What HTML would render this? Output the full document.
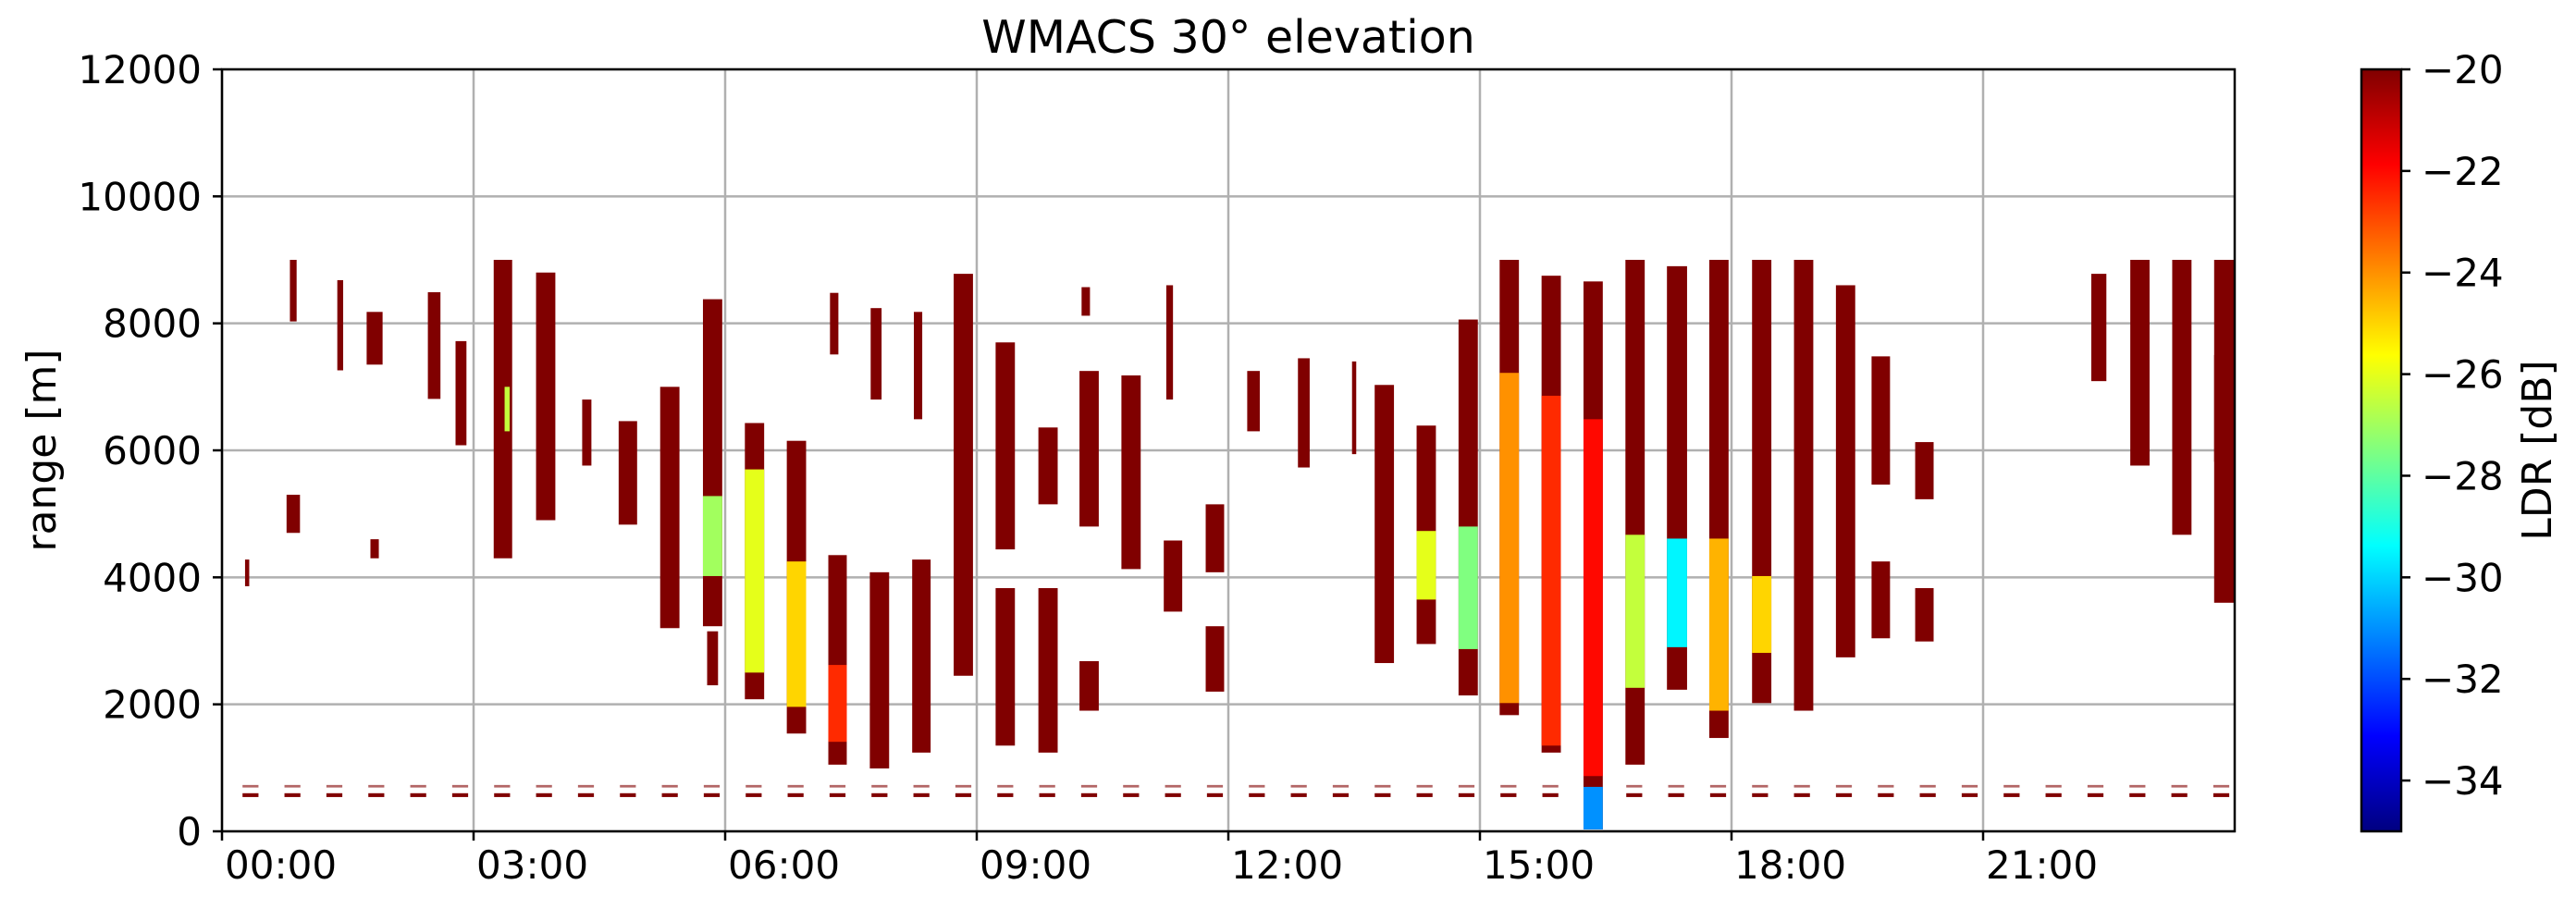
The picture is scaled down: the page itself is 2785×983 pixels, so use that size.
<!DOCTYPE html>
<html><head><meta charset="utf-8"><style>
html,body{margin:0;padding:0;background:#fff;}
svg{display:block;font-family:"DejaVu Sans","Liberation Sans",sans-serif;}
</style></head><body>
<svg id="chart" width="2785" height="983" viewBox="0 0 2785 983">
<defs>
<linearGradient id="jet" x1="0" y1="0" x2="0" y2="1">
<stop offset="0" stop-color="#800000"/><stop offset="0.125" stop-color="#ff0000"/>
<stop offset="0.375" stop-color="#ffff00"/><stop offset="0.5" stop-color="#80ff80"/>
<stop offset="0.625" stop-color="#00ffff"/><stop offset="0.875" stop-color="#0000ff"/>
<stop offset="1" stop-color="#000080"/>
</linearGradient>
<clipPath id="pc"><rect x="240" y="75" width="2176" height="824"/></clipPath>
</defs>
<text x="1328" y="57" font-size="49" text-anchor="middle">WMACS 30° elevation</text>
<g id="grid"></g>
<g id="marks" clip-path="url(#pc)"></g>
<rect x="240" y="75" width="2176" height="824" fill="none" stroke="#000" stroke-width="2.5"/>
<g id="axes"></g>
<text transform="translate(60,487) rotate(-90)" font-size="44" text-anchor="middle">range [m]</text>
<rect x="2553" y="75" width="43" height="824" fill="url(#jet)" stroke="#000" stroke-width="2.5"/>
<g id="cbax"></g>
<text transform="translate(2758,487) rotate(-90)" font-size="44" text-anchor="middle">LDR [dB]</text>
</svg>
<script>
const xTickLabels = ["00:00","03:00","06:00","09:00","12:00","15:00","18:00","21:00"];
const xTickHours = [0,3,6,9,12,15,18,21];
const yTicks = [0,2000,4000,6000,8000,10000,12000];
const cbTicks = [-20,-22,-24,-26,-28,-30,-32,-34];
// cloud strips: time (h), width (h), bottom (m), top (m), LDR (dB)
const stripTime = [0.3,0.85,0.85,1.41,1.82,1.82,2.53,2.85,3.35,3.86,4.35,4.84,5.34,5.85,5.85,6.35,6.85,7.34,7.84,8.34,7.3,7.8,8.3,8.84,9.34,9.34,9.85,9.85,10.34,10.3,10.34,10.84,11.3,11.34,11.84,11.84,12.3,12.9,13.5,13.86,14.36,14.86,15.35,15.85,16.35,16.85,17.35,17.85,18.36,18.86,19.36,19.78,19.78,20.3,20.3,22.38,22.87,23.37,23.88,23.88];
const stripWidth = [0.05,0.16,0.08,0.07,0.19,0.1,0.15,0.13,0.22,0.23,0.11,0.22,0.23,0.23,0.13,0.23,0.23,0.22,0.23,0.22,0.1,0.13,0.1,0.23,0.23,0.23,0.23,0.23,0.23,0.1,0.23,0.23,0.08,0.22,0.22,0.22,0.15,0.14,0.05,0.23,0.23,0.23,0.23,0.23,0.23,0.23,0.24,0.23,0.23,0.23,0.23,0.22,0.22,0.22,0.22,0.18,0.23,0.23,0.25,0.25];
const stripBottom = [3860,4700,8030,7260,7350,4300,6810,6080,4300,4900,5760,4830,3200,3230,2300,2080,1540,1050,990,1240,7510,6800,6490,2450,4440,1350,5150,1240,4800,8120,1900,4130,6800,3460,4080,2200,6300,5730,5940,2650,2950,2140,1830,1240,30,1050,2230,1470,2020,1900,2740,5460,3040,5230,2990,7090,5760,4670,5820,3600];
const stripTop = [4280,5300,9000,8680,8180,4600,8490,7720,9000,8800,6800,6460,7000,8380,3150,6430,6150,4350,4080,4280,8480,8240,8180,8780,7700,3830,6360,3830,7250,8570,2680,7180,8600,4580,5150,3230,7250,7450,7400,7030,6390,8060,9000,8750,8660,9000,8900,9000,9000,9000,8600,7480,4250,6130,3830,8780,9000,9000,9000,7500];
const stripLdr = stripTime.map(() => -20);
// depolarisation cores inside strips
const coreTime = [3.4,5.85,6.35,6.85,7.34,14.36,14.86,15.35,15.85,16.35,16.35,16.85,17.35,17.85,18.36];
const coreWidth = [0.06,0.23,0.23,0.23,0.22,0.23,0.23,0.23,0.23,0.23,0.23,0.23,0.24,0.23,0.23];
const coreBottom = [6300,4020,2500,1960,1410,3650,2870,2020,1350,870,30,2260,2900,1900,2810];
const coreTop = [7000,5280,5700,4250,2620,4730,4800,7220,6860,6490,700,4670,4610,4610,4020];
const coreLdr = [-26.5,-27,-26,-25,-22.5,-26,-27.5,-24,-22.5,-22,-31,-26.5,-29.5,-24.5,-25];
// near-ground clutter scans
const clutterTime = [0.34,0.84,1.34,1.84,2.34,2.84,3.34,3.84,4.34,4.84,5.34,5.84,6.34,6.84,7.34,7.84,8.34,8.84,9.34,9.84,10.34,10.84,11.34,11.84,12.34,12.84,13.34,13.84,14.34,14.84,15.34,15.84,16.34,16.84,17.34,17.84,18.34,18.84,19.34,19.84,20.34,20.84,21.34,21.84,22.34,22.84,23.34,23.84];

const NS='http://www.w3.org/2000/svg';
const X0=240,X1=2416,Y0=899,Y1=75;
const xs=h=>X0+h/24*(X1-X0);
const ys=r=>Y0-r/12000*(Y0-Y1);
const cbY=v=>75+(-20-v)/15*824;
function jet(v){
  let x=(v+35)/15; x=Math.max(0,Math.min(1,x));
  const c=t=>Math.round(255*Math.max(0,Math.min(1,1.5-Math.abs(4*x-t))));
  return `rgb(${c(3)},${c(2)},${c(1)})`;
}
function mk(tag,attrs,parent){const e=document.createElementNS(NS,tag);for(const k in attrs)e.setAttribute(k,attrs[k]);parent.appendChild(e);return e;}
const grid=document.getElementById('grid'),marks=document.getElementById('marks'),axes=document.getElementById('axes'),cbax=document.getElementById('cbax');
xTickHours.forEach((h,i)=>{
  const x=xs(h);
  const gl=mk('line',{x1:x,x2:x,y1:Y1,y2:Y0,stroke:'#b0b0b0','stroke-width':2.5},grid);
  
  
  const tk=mk('line',{x1:x,x2:x,y1:Y0,y2:Y0+10,stroke:'#000','stroke-width':2.5},axes);
  
  
  const t=mk('text',{x:x+3,y:950,'font-size':42},axes);
  t.textContent=xTickLabels[i];
  
  
});
yTicks.forEach(v=>{
  const y=ys(v);
  const gl=mk('line',{x1:X0,x2:X1,y1:y,y2:y,stroke:'#b0b0b0','stroke-width':2.5},grid);
  
  
  const tk=mk('line',{x1:X0-10,x2:X0,y1:y,y2:y,stroke:'#000','stroke-width':2.5},axes);
  
  
  const t=mk('text',{x:218,y:y+15,'font-size':42,'text-anchor':'end'},axes);
  t.textContent=String(v);
  
  
});
clutterTime.forEach(h=>{
  const w=0.19*(X1-X0)/24;
  const a=mk('rect',{x:xs(h)-w/2,y:ys(600),width:w,height:ys(540)-ys(600),fill:jet(-20)},marks);
  
  
  const b=mk('rect',{x:xs(h)-w/2,y:ys(730),width:w,height:ys(690)-ys(730),fill:jet(-20),opacity:0.6},marks);
  
  
});
stripTime.forEach((h,i)=>{
  const w=stripWidth[i]*(X1-X0)/24;
  const r=mk('rect',{x:xs(h)-w/2,y:ys(stripTop[i]),width:w,height:ys(stripBottom[i])-ys(stripTop[i]),fill:jet(stripLdr[i])},marks);
  
  
});
coreTime.forEach((h,i)=>{
  const w=coreWidth[i]*(X1-X0)/24;
  const r=mk('rect',{x:xs(h)-w/2,y:ys(coreTop[i]),width:w,height:ys(coreBottom[i])-ys(coreTop[i]),fill:jet(coreLdr[i])},marks);
  
  
});
cbTicks.forEach(v=>{
  const y=cbY(v);
  const tk=mk('line',{x1:2596,x2:2606,y1:y,y2:y,stroke:'#000','stroke-width':2.5},cbax);
  
  
  const t=mk('text',{x:2618,y:y+15,'font-size':42},cbax);
  t.textContent='\u2212'+Math.abs(v);
  
  
});
</script>
</body></html>
